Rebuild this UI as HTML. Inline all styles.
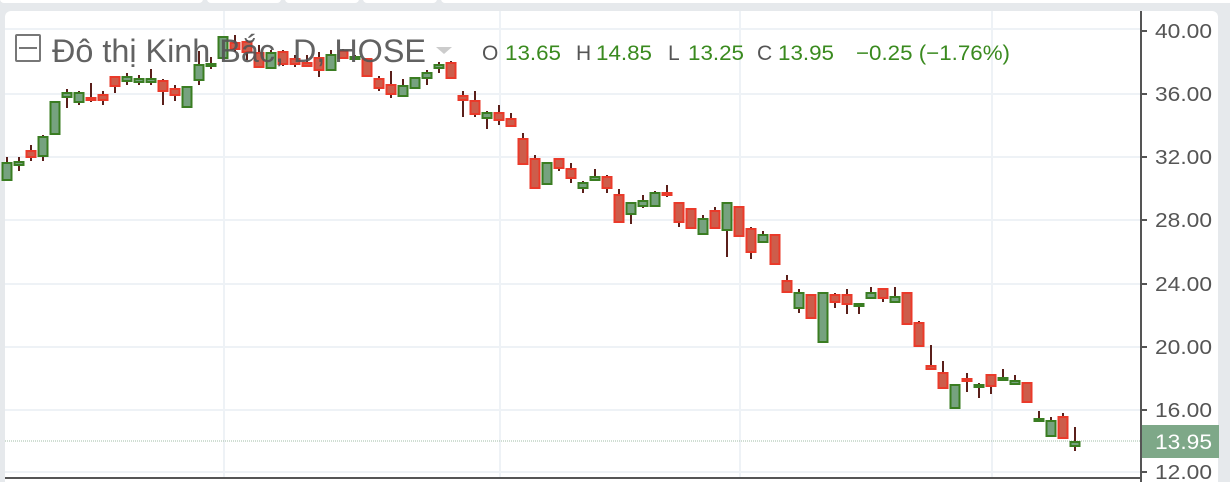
<!DOCTYPE html>
<html><head><meta charset="utf-8"><style>
body{margin:0;width:1230px;height:482px;background:#e6e9ec;overflow:hidden;font-family:"Liberation Sans","DejaVu Sans",sans-serif}
</style></head><body>
<svg id="s" width="1230" height="482" xmlns="http://www.w3.org/2000/svg" style="position:absolute;left:0;top:0">
<rect x="0" y="-6" width="203" height="9" rx="4" fill="#fff"/>
<rect x="207" y="-6" width="74" height="9" rx="4" fill="#fff"/>
<rect x="285" y="-6" width="74" height="9" rx="4" fill="#fff"/>
<rect x="363" y="-6" width="74" height="9" rx="4" fill="#fff"/>
<rect x="441" y="-6" width="800" height="9" rx="4" fill="#fff"/>
<rect x="5" y="11" width="1213" height="480" rx="6" fill="#fff"/>
<g stroke="#eef2f6" stroke-width="2">
<line x1="5" y1="29" x2="1141" y2="29"/><line x1="5" y1="94" x2="1141" y2="94"/>
<line x1="5" y1="157" x2="1141" y2="157"/><line x1="5" y1="220" x2="1141" y2="220"/>
<line x1="5" y1="284" x2="1141" y2="284"/><line x1="5" y1="347" x2="1141" y2="347"/>
<line x1="5" y1="410" x2="1141" y2="410"/><line x1="5" y1="472" x2="1141" y2="472"/>
<line x1="224" y1="11" x2="224" y2="478"/><line x1="500" y1="11" x2="500" y2="478"/>
<line x1="740" y1="11" x2="740" y2="478"/><line x1="992" y1="11" x2="992" y2="478"/>
</g>
<line x1="5" y1="441" x2="1141" y2="441" stroke="#b5c9b9" stroke-width="1.2" stroke-dasharray="1,1"/>
<g id="c"></g>
<line x1="1141" y1="11" x2="1141" y2="482" stroke="#555" stroke-width="2"/>
<line x1="5" y1="478" x2="1141" y2="478" stroke="#555" stroke-width="2"/>
<g stroke="#555" stroke-width="2">
<line x1="1141" y1="31" x2="1147" y2="31"/><line x1="1141" y1="94" x2="1147" y2="94"/>
<line x1="1141" y1="157" x2="1147" y2="157"/><line x1="1141" y1="220" x2="1147" y2="220"/>
<line x1="1141" y1="284" x2="1147" y2="284"/><line x1="1141" y1="347" x2="1147" y2="347"/>
<line x1="1141" y1="410" x2="1147" y2="410"/><line x1="1141" y1="472" x2="1147" y2="472"/>
</g>
<g font-size="20" fill="#555">
<text x="1155" y="38" textLength="57" lengthAdjust="spacingAndGlyphs">40.00</text><text x="1155" y="101" textLength="57" lengthAdjust="spacingAndGlyphs">36.00</text>
<text x="1155" y="164" textLength="57" lengthAdjust="spacingAndGlyphs">32.00</text><text x="1155" y="227" textLength="57" lengthAdjust="spacingAndGlyphs">28.00</text>
<text x="1155" y="291" textLength="57" lengthAdjust="spacingAndGlyphs">24.00</text><text x="1155" y="354" textLength="57" lengthAdjust="spacingAndGlyphs">20.00</text>
<text x="1155" y="417" textLength="57" lengthAdjust="spacingAndGlyphs">16.00</text><text x="1155" y="479" textLength="57" lengthAdjust="spacingAndGlyphs">12.00</text>
</g>
<rect x="1142" y="425" width="77" height="33" fill="#7ea888"/>
<text x="1155" y="449" font-size="21" fill="#fff" textLength="57" lengthAdjust="spacingAndGlyphs">13.95</text>
<rect x="1219" y="11" width="11" height="471" fill="#e6e9ec"/>
<rect x="16" y="35" width="24" height="26" rx="1" fill="none" stroke="#777" stroke-width="2"/>
<line x1="19" y1="48" x2="37" y2="48" stroke="#777" stroke-width="2"/>
<text x="52" y="62" font-size="32" fill="#555" opacity="0.92" textLength="374" lengthAdjust="spacingAndGlyphs">Đô thị Kinh Bắc, D, HOSE</text>
<polygon points="436,47 452,47 444,54" fill="#ccc"/>
<g font-size="21" fill="#555">
<text x="482" y="60">O</text><text x="505" y="60" fill="#3a8a1f" textLength="56" lengthAdjust="spacingAndGlyphs">13.65</text>
<text x="576" y="60">H</text><text x="596" y="60" fill="#3a8a1f" textLength="56" lengthAdjust="spacingAndGlyphs">14.85</text>
<text x="668" y="60">L</text><text x="688" y="60" fill="#3a8a1f" textLength="56" lengthAdjust="spacingAndGlyphs">13.25</text>
<text x="757" y="60">C</text><text x="778" y="60" fill="#3a8a1f" textLength="56" lengthAdjust="spacingAndGlyphs">13.95</text>
<text x="856" y="60" fill="#3a8a1f" textLength="154" lengthAdjust="spacingAndGlyphs">−0.25 (−1.76%)</text>
</g>
</svg>
<script>
var d=[[163,180,157,180,'g'],[162,165,157,171,'g'],[151,157,145,161,'r'],[137,156,135,161,'g'],[102,134,102,134,'g'],[93,97,89,108,'g'],[93,102,91,105,'g'],[98,100,83,102,'r'],[95,100,91,105,'r'],[77,86,77,93,'r'],[77,81,73,85,'g'],[79,82,75,85,'g'],[79,82,69,85,'g'],[81,91,79,105,'r'],[89,95,85,101,'r'],[87,107,87,107,'g'],[65,80,51,85,'g'],[64,66,57,69,'g'],[37,58,37,58,'g'],[43,49,35,52,'r'],[42,52,40,60,'r'],[53,67,45,67,'r'],[53,68,50,68,'g'],[52,64,50,66,'r'],[59,64,55,67,'r'],[63,66,55,67,'r'],[58,70,52,77,'r'],[55,70,50,70,'g'],[51,58,49,58,'r'],[57,59,55,60,'g'],[59,76,59,76,'r'],[79,88,76,91,'r'],[85,94,71,98,'r'],[86,96,79,96,'g'],[78,88,78,88,'g'],[73,78,70,85,'g'],[65,68,62,73,'g'],[63,78,61,78,'r'],[96,100,91,117,'r'],[101,114,91,117,'r'],[113,118,111,129,'g'],[113,120,105,125,'r'],[119,126,113,126,'r'],[139,164,133,164,'r'],[159,188,155,188,'r'],[163,184,163,184,'g'],[159,168,159,171,'r'],[169,178,163,183,'r'],[183,188,181,193,'g'],[177,180,169,180,'g'],[177,188,175,193,'r'],[195,222,189,222,'r'],[203,214,203,224,'g'],[201,206,195,208,'g'],[193,206,191,206,'g'],[193,195,185,197,'r'],[203,222,203,227,'r'],[209,228,209,228,'r'],[219,234,215,234,'g'],[211,228,207,228,'r'],[203,230,203,257,'g'],[207,236,207,236,'r'],[229,252,227,259,'r'],[235,242,231,242,'g'],[235,264,235,264,'r'],[281,292,275,292,'r'],[293,308,289,313,'g'],[295,318,295,318,'r'],[293,342,293,342,'g'],[295,302,293,308,'r'],[295,304,289,314,'r'],[304,306,303,314,'g'],[293,298,287,298,'g'],[289,298,289,302,'r'],[297,302,287,302,'g'],[293,324,293,324,'r'],[323,346,321,346,'r'],[366,369,345,369,'r'],[373,388,361,388,'r'],[385,408,385,408,'g'],[379,381,373,392,'r'],[385,387,383,398,'g'],[375,386,375,394,'r'],[378,380,369,380,'g'],[381,384,375,384,'g'],[383,402,383,402,'r'],[419,421,411,421,'g'],[421,436,417,436,'g'],[417,438,413,438,'r'],[442,446,427,451,'g']];
var h='';
d.forEach(function(c,i){var x=7+12*i;
h+='<line x1="'+x+'" y1="'+c[2]+'" x2="'+x+'" y2="'+c[3]+'" stroke="#5a1f1a" stroke-width="2"/>';
var bh=Math.max(c[1]-c[0],2);
var f=c[4]=='g'?'#76a27f':'#cd5d4b',s=c[4]=='g'?'#3a7d22':'#ea3a2a';
h+='<rect x="'+(x-4.5)+'" y="'+c[0]+'" width="9" height="'+bh+'" fill="'+f+'" stroke="'+s+'" stroke-width="2"/>';});
document.getElementById('c').innerHTML=h;
</script>
</body></html>
